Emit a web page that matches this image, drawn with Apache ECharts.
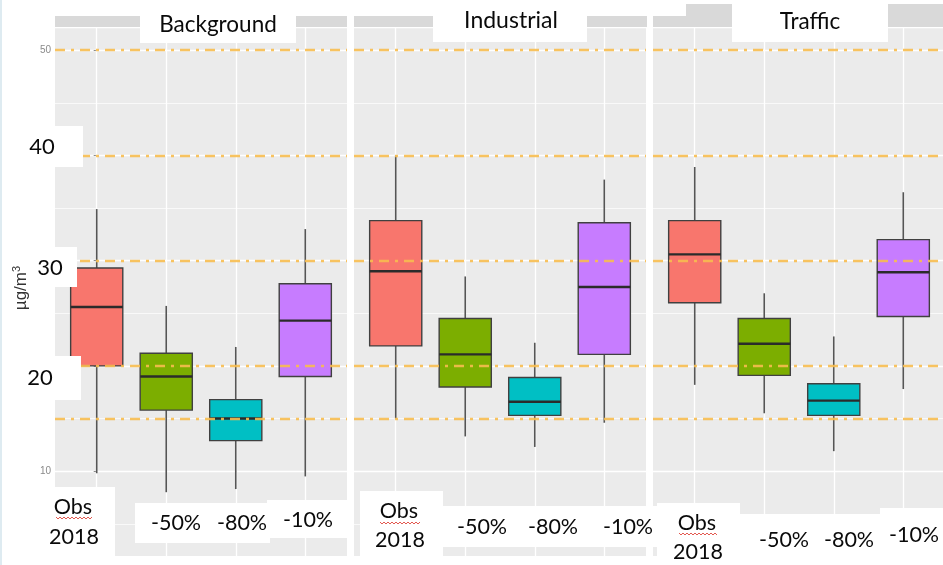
<!DOCTYPE html>
<html>
<head>
<meta charset="utf-8">
<script src="https://cdn.jsdelivr.net/npm/echarts@6/dist/echarts.min.js"></script>
<style>
  html, body { margin: 0; padding: 0; background: #fff; }
  #chart { width: 943px; height: 565px; }
</style>
</head>
<body>
<div id="chart"></div>
<script>
// Scenario categories, drawn left to right in every panel
const categories = ['Obs 2018', '-50%', '-80%', '-10%'];
// Site types, one facet each
const panels = ['Background', 'Industrial', 'Traffic'];

// Box statistics per scenario: [lower whisker, Q1, median, Q3, upper whisker] in µg/m³
const background = [
  [9.8, 20.0, 25.6, 29.3, 34.9],
  [8.0, 15.8, 19.0, 21.2, 25.7],
  [8.3, 12.9, 15.0, 16.8, 21.8],
  [9.5, 19.0, 24.3, 27.8, 33.0]
];
const industrial = [
  [15.0, 21.9, 29.0, 33.8, 40.0],
  [13.3, 18.0, 21.1, 24.5, 28.5],
  [12.3, 15.3, 16.6, 18.9, 22.2],
  [14.6, 21.1, 27.5, 33.6, 37.7]
];
const traffic = [
  [18.2, 26.0, 30.6, 33.8, 38.9],
  [15.5, 19.1, 22.1, 24.5, 26.9],
  [11.9, 15.3, 16.7, 18.3, 22.8],
  [17.8, 24.7, 28.9, 32.0, 36.5]
];

// Reference concentration levels (dash-dot lines)
const referenceLevels = [15, 20, 30, 40, 50];
// Large overlaid axis labels
const bigTickLabels = ['40', '30', '20'];

const panelData = [background, industrial, traffic];
const fills = ['#F8766D', '#7CAE00', '#00BFC4', '#C77CFF'];

// Facet geometry
const panelLefts = [55, 354, 653];
const panelWidth = 292;
const panelTop = 27;
const yMax = 52.2;
const pxPerUnit = 10.525;

const grids = [], xAxes = [], yAxes = [], series = [];

panelLefts.forEach((left, i) => {
  grids.push({
    left: left, top: panelTop, width: panelWidth, height: yMax * pxPerUnit,
    outerBoundsMode: 'none', containLabel: false,
    show: true, backgroundColor: '#EBEBEB', borderWidth: 0
  });
  xAxes.push({
    gridIndex: i, type: 'value', min: -0.6, max: 3.6,
    axisLine: { show: false }, axisTick: { show: false },
    axisLabel: { show: false }, splitLine: { show: false }
  });
  yAxes.push({
    gridIndex: i, type: 'value', min: 0, max: yMax, interval: 10,
    axisLine: { show: false },
    axisTick: { show: i === 0, length: 3, lineStyle: { color: '#8a8a8a' } },
    axisLabel: {
      show: i === 0, color: '#8a8a8a', fontSize: 10, margin: 4,
      fontFamily: 'Liberation Sans',
      showMaxLabel: false,
      formatter: v => (v >= 10 && v % 10 === 0 ? String(v) : '')
    },
    splitLine: { show: true, lineStyle: { color: '#FFFFFF', width: 1.3 } },
    minorTick: { show: false, splitNumber: 2 },
    minorSplitLine: { show: true, lineStyle: { color: '#FFFFFF', width: 0.7 } }
  });

  // vertical white grid lines at each scenario position
  series.push({
    type: 'line', xAxisIndex: i, yAxisIndex: i, data: [], z: 1, silent: true,
    markLine: {
      z: 1, silent: true, symbol: ['none', 'none'], label: { show: false },
      lineStyle: { color: '#FFFFFF', width: 1.3, type: 'solid' },
      animation: false,
      data: categories.map((c, k) => ({ xAxis: k }))
    }
  });

  // box plots
  series.push({
    type: 'custom', xAxisIndex: i, yAxisIndex: i, z: 3,
    encode: { x: 0, y: [1, 2, 3, 4, 5] },
    data: panelData[i].map((s, k) => [k].concat(s)),
    renderItem: function (params, api) {
      const k = api.value(0);
      const pMin = api.coord([k, api.value(1)]);
      const pQ1 = api.coord([k, api.value(2)]);
      const pMed = api.coord([k, api.value(3)]);
      const pQ3 = api.coord([k, api.value(4)]);
      const pMax = api.coord([k, api.value(5)]);
      const half = api.size([0.75, 0])[0] / 2;
      const cx = pMed[0];
      const whisker = { stroke: '#555555', lineWidth: 1.6 };
      return {
        type: 'group',
        children: [
          { type: 'line', shape: { x1: cx, y1: pQ3[1], x2: cx, y2: pMax[1] }, style: whisker },
          { type: 'line', shape: { x1: cx, y1: pQ1[1], x2: cx, y2: pMin[1] }, style: whisker },
          {
            type: 'rect',
            shape: { x: cx - half, y: pQ3[1], width: half * 2, height: pQ1[1] - pQ3[1] },
            style: { fill: fills[k], stroke: '#404040', lineWidth: 1.4 }
          },
          {
            type: 'line',
            shape: { x1: cx - half, y1: pMed[1], x2: cx + half, y2: pMed[1] },
            style: { stroke: '#2b2b2b', lineWidth: 2.4 }
          }
        ]
      };
    }
  });

  // dash-dot reference levels
  series.push({
    type: 'line', xAxisIndex: i, yAxisIndex: i, data: [], z: 6, silent: true,
    markLine: {
      z: 10, silent: true, symbol: ['none', 'none'], label: { show: false },
      animation: false,
      lineStyle: { color: '#F7BC4F', width: 2.4, type: [10, 6, 3, 6], opacity: 0.9 },
      data: referenceLevels.map(v => ({ yAxis: v }))
    }
  });
});

const font = 'Lato, "Open Sans", sans-serif';
function box(x, y, w, h) {
  return { type: 'rect', z: 100, shape: { x: x, y: y, width: w, height: h }, style: { fill: '#FFFFFF' } };
}
function label(text, x, y, size) {
  return {
    type: 'text', z: 110, x: x, y: y,
    style: { text: text, fill: '#0a0a0a', font: (size || 21.5) + 'px ' + font, align: 'center', verticalAlign: 'middle' }
  };
}
function squiggle(x0, x1, y) {
  const pts = [];
  for (let x = x0, up = true; x <= x1; x += 2, up = !up) pts.push([x, up ? y - 1 : y + 1]);
  return { type: 'polyline', z: 111, shape: { points: pts }, style: { stroke: '#E0463C', lineWidth: 0.9, fill: null } };
}

const graphic = [
  // facet strips
  { type: 'rect', z: 20, shape: { x: 55, y: 16, width: 292, height: 11 }, style: { fill: '#D9D9D9' } },
  { type: 'rect', z: 20, shape: { x: 354, y: 16, width: 293, height: 11 }, style: { fill: '#D9D9D9' } },
  { type: 'rect', z: 20, shape: { x: 653, y: 16, width: 290, height: 11 }, style: { fill: '#D9D9D9' } },
  { type: 'rect', z: 20, shape: { x: 686, y: 4, width: 257, height: 12 }, style: { fill: '#D9D9D9' } },
  // strip below the panels
  { type: 'rect', z: 50, shape: { x: 0, y: 556, width: 943, height: 9 }, style: { fill: '#FFFFFF' } },
  // left border
  { type: 'line', z: 120, shape: { x1: 1, y1: 0, x2: 1, y2: 565 }, style: { stroke: '#D3E4EC', lineWidth: 1.5 } },

  // facet titles
  box(140, 8, 156, 35), label(panels[0], 218, 25, 22.5),
  box(433, 0, 154, 42), label(panels[1], 511, 21, 23),
  box(732, 0, 156, 42), label(panels[2], 810, 22, 22.5),

  // y axis labels and title
  box(0, 126, 83, 41), label(bigTickLabels[0], 42, 147, 22),
  box(0, 247, 77, 40), label(bigTickLabels[1], 50, 268, 22),
  box(0, 356, 81, 44), label(bigTickLabels[2], 40, 378, 22),
  {
    type: 'text', z: 110, x: 21, y: 288, rotation: Math.PI / 2,
    style: {
      text: 'µg/m{sup|3}', fill: '#333333', font: '17px "Liberation Sans", sans-serif',
      align: 'center', verticalAlign: 'middle',
      rich: { sup: { fontSize: 11, verticalAlign: 'top', padding: [0, 0, 9, 0], fill: '#333333' } }
    }
  },

  // scenario labels, Background panel
  box(40, 487, 75, 78),
  label('Obs', 73, 507), label('2018', 74, 537), squiggle(56, 92, 518),
  box(135, 503, 135, 40),
  label(categories[1], 176, 523), label(categories[2], 242, 523),
  box(267, 500, 86, 38), label(categories[3], 308, 520),

  // scenario labels, Industrial panel
  box(360, 491, 83, 74),
  label('Obs', 399, 511), label('2018', 400, 540), squiggle(380, 420, 523),
  box(443, 506, 214, 41),
  label(categories[1], 482, 527), label(categories[2], 553, 527), label(categories[3], 628, 527),

  // scenario labels, Traffic panel
  box(657, 503, 83, 62),
  label('Obs', 697, 523), label('2018', 698, 552), squiggle(679, 717, 534),
  box(740, 514, 203, 51), box(880, 508, 63, 20),
  label(categories[1], 784, 540), label(categories[2], 849, 540), label(categories[3], 914, 535)
];

const chart = echarts.init(document.getElementById('chart'), null, { renderer: 'canvas' });
chart.setOption({
  animation: false,
  backgroundColor: '#FFFFFF',
  grid: grids,
  xAxis: xAxes,
  yAxis: yAxes,
  series: series,
  graphic: graphic
});
</script>
</body>
</html>
